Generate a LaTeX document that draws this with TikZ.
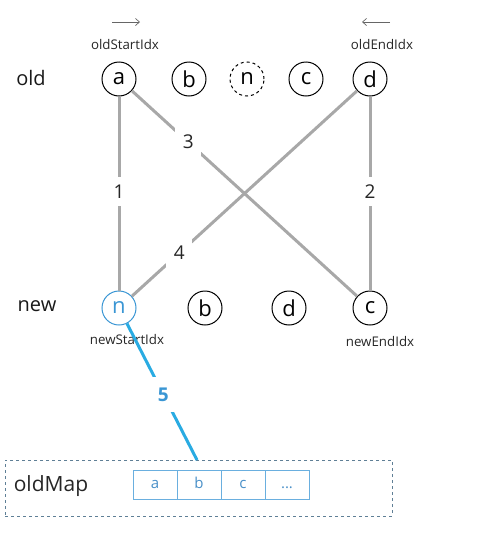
\documentclass[tikz,border=0pt]{standalone}
\usepackage{fontspec}
\setmainfont{Open Sans}
\usetikzlibrary{arrows.meta}
\definecolor{edgegray}{HTML}{A8A8A8}
\definecolor{lineblue}{HTML}{29ABE2}
\definecolor{nodeblue}{HTML}{3A96D4}
\definecolor{boxgray}{HTML}{5F7F96}
\definecolor{cellblue}{HTML}{6AAFDF}
\definecolor{celltext}{HTML}{4A90C8}
\begin{document}
\begin{tikzpicture}[x=1pt,y=-1pt,
  vnode/.style={circle,draw=black,line width=1pt,minimum size=34pt,inner sep=0pt,font=\fontsize{22}{22}\selectfont},
  rowlabel/.style={font=\fontsize{20}{20}\selectfont,text=black!90},
  idxlabel/.style={font=\fontsize{13.3}{13.3}\selectfont,text=black!85},
  conn/.style={draw=edgegray,line width=3pt},
  elabel/.style={fill=white,inner sep=7.5pt,font=\fontsize{19}{19}\selectfont,text=black!85},
  ptr/.style={draw=black!60,line width=0.7pt,-{Straight Barb[length=4pt,width=7pt]}},
  cell/.style={draw=cellblue,line width=0.9pt,minimum width=44pt,minimum height=29pt,inner sep=0pt,text height=8pt,text depth=0pt,text=celltext,font=\fontsize{15}{15}\selectfont}
]
\useasboundingbox (0,0) rectangle (493,536);
% row labels
\node[rowlabel] (old) at (31,78) {old};
\node[rowlabel] (new) at (37,306) {new};
% old row
\node[vnode] (oa) at (119,79) {a};
\node[vnode] (ob) at (189,79) {b};
\node[vnode,dashed] (on) at (247,79) {n};
\node[vnode] (oc) at (306,79) {c};
\node[vnode] (od) at (370,79) {d};
% new row
\node[vnode,draw=nodeblue,text=nodeblue] (nn) at (119,308) {n};
\node[vnode] (nb) at (205,308) {b};
\node[vnode] (nd) at (289,308) {d};
\node[vnode] (nc) at (370,308) {c};
% index labels
\node[idxlabel] (osi) at (125,45) {oldStartIdx};
\node[idxlabel] (oei) at (382,45) {oldEndIdx};
\node[idxlabel] (nsi) at (127,340) {newStartIdx};
\node[idxlabel] (nei) at (380,342) {newEndIdx};
\coordinate (osa1) at (112,22);
\coordinate (osa2) at (140,22);
\coordinate (oea1) at (390,22);
\coordinate (oea2) at (362,22);
\draw[ptr] (osa1) -- (osa2);
\draw[ptr] (oea1) -- (oea2);
% connectors
\draw[conn] (oa) -- node[elabel,pos=0.49] {1} (nn);
\draw[conn] (od) -- node[elabel,pos=0.49] {2} (nc);
\draw[conn] (oa) -- node[elabel,pos=0.25] {3} (nc);
\draw[conn] (od) -- node[elabel,pos=0.79] {4} (nn);
% oldMap box
\node[draw=boxgray,dashed,line width=0.8pt,minimum width=387pt,minimum height=56pt,inner sep=0pt] (map) at (198.5,488) {};
\node[font=\fontsize{21}{21}\selectfont,text=black!85] (maplabel) at (51,486) {oldMap};
\node[cell] (c1) at (155,484.5) {a};
\node[cell] (c2) at (199,484.5) {b};
\node[cell] (c3) at (243,484.5) {c};
\node[cell] (c4) at (287,484.5) {...};
\coordinate (m5) at (197,460);
\draw[draw=lineblue,line width=3pt] (nn) -- node[fill=white,inner sep=11pt,pos=0.52,text=nodeblue,font=\bfseries\fontsize{19}{19}\selectfont] {5} (m5);
\end{tikzpicture}
\end{document}
